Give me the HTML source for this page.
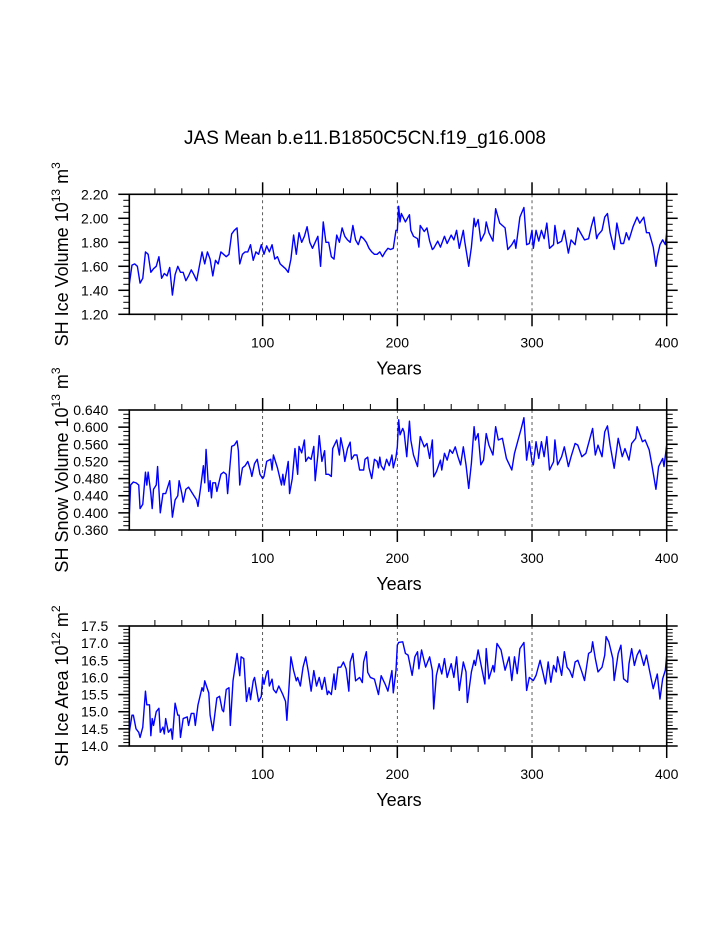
<!DOCTYPE html>
<html><head><meta charset="utf-8">
<style>
html,body{margin:0;padding:0;background:#fff;}
svg{display:block;font-family:"Liberation Sans",Arial,sans-serif;}
</style></head>
<body>
<svg id="chart" width="723" height="935" viewBox="0 0 723 935" xmlns="http://www.w3.org/2000/svg">
<text x="365" y="144" font-size="19" text-anchor="middle">JAS Mean b.e11.B1850C5CN.f19_g16.008</text>
</svg>
<script>
// ---- Panel 1: SH Ice Volume (10^13 m^3)
const iceVolYears = [1,3,5,7,9,11,13,15,17,19,21,23,25,27,29,31,33,35,37,39,41,43,45,47,49,51,53,55,57,59,61,63,65,67,69,71,73,75,77,79,81,83,85,87,89,91,93,95,97,99,
101,103,105,107,109,111,113,115,117,119,121,123,125,127,129,131,133,135,137,139,141,143,145,147,149,151,153,155,157,159,161,163,165,167,169,171,173,175,177,179,181,183,185,187,189,191,193,195,197,199,
200,201,202,203,206,209,210,212,215,216,217,220,222,224,226,227,230,232,235,237,240,242,244,246,249,250,253,255,257,258,260,262,265,266,268,271,273,276,280,282,285,287,288,291,294,296,298,300,301,303,305,307,309,311,313,316,317,319,322,324,327,329,332,334,337,339,342,344,346,348,349,352,354,356,358,361,363,366,368,370,372,375,378,380,383,385,387,390,392,393,395,397,399,400];
const iceVolValues = [1.45,1.61,1.62,1.60,1.46,1.50,1.72,1.70,1.55,1.58,1.60,1.68,1.50,1.54,1.52,1.59,1.36,1.53,1.60,1.55,1.55,1.48,1.52,1.57,1.53,1.48,1.60,1.72,1.62,1.72,1.66,1.52,1.65,1.62,1.72,1.70,1.68,1.70,1.87,1.90,1.92,1.62,1.70,1.72,1.72,1.78,1.65,1.72,1.70,1.78,
1.70,1.77,1.72,1.78,1.66,1.68,1.62,1.60,1.58,1.55,1.66,1.86,1.70,1.88,1.80,1.85,1.93,1.80,1.75,1.80,1.85,1.60,1.97,1.80,1.80,1.68,1.66,1.86,1.80,1.92,1.85,1.82,1.80,1.94,1.82,1.78,1.85,1.83,1.80,1.75,1.72,1.70,1.70,1.72,1.68,1.72,1.75,1.74,1.75,1.90,
1.90,2.10,1.97,2.04,1.97,2.03,1.90,1.85,1.83,1.76,1.94,1.89,1.92,1.81,1.74,1.75,1.81,1.76,1.85,1.79,1.86,1.82,1.90,1.75,1.90,1.81,1.60,1.76,2.00,1.93,1.99,1.81,1.88,1.97,1.88,1.81,2.08,1.96,1.92,1.74,1.78,1.82,1.75,2.01,2.09,1.78,1.79,1.90,1.75,1.90,1.81,1.90,1.83,1.96,1.75,1.78,1.94,1.79,1.81,1.90,1.71,1.82,1.78,1.92,1.86,1.82,1.83,1.93,2.01,1.83,1.86,1.90,2.01,2.04,1.88,1.74,1.96,1.79,1.79,1.88,1.82,1.93,2.01,1.96,2.01,1.88,1.88,1.76,1.60,1.68,1.78,1.82,1.78,1.88];

// ---- Panel 2: SH Snow Volume (10^13 m^3)
const snowYears = [1,2,4,6,8,9,11,13,14,15,17,18,19,21,22,24,26,28,31,33,35,37,38,40,41,43,45,48,51,52,54,56,57,58,60,61,62,63,65,66,69,71,73,74,76,77,79,81,82,83,85,87,89,91,92,94,96,98,100,
101,103,106,107,108,111,114,115,116,119,120,122,124,126,127,129,131,132,134,136,138,139,141,142,144,146,147,149,151,152,155,157,158,160,161,163,165,166,168,170,172,175,176,178,179,181,183,185,186,187,188,190,192,194,196,197,199,
200,201,202,204,205,207,209,210,212,215,217,220,222,224,226,227,229,232,233,235,237,239,241,243,245,247,249,251,253,255,257,258,260,262,264,266,268,271,273,275,278,281,285,287,290,292,294,296,298,300,301,303,305,307,309,311,313,316,317,319,322,324,327,329,332,334,337,340,343,345,347,349,352,354,356,358,361,364,367,369,372,374,377,378,382,384,387,389,392,394,397,398,400];
const snowValues = [0.395,0.465,0.472,0.470,0.465,0.410,0.420,0.495,0.465,0.495,0.445,0.410,0.455,0.465,0.508,0.400,0.445,0.445,0.475,0.390,0.430,0.440,0.475,0.445,0.425,0.455,0.460,0.445,0.430,0.415,0.460,0.510,0.470,0.548,0.450,0.475,0.435,0.470,0.470,0.450,0.490,0.495,0.490,0.445,0.520,0.555,0.558,0.568,0.545,0.465,0.505,0.510,0.520,0.500,0.485,0.515,0.525,0.490,0.480,
0.485,0.520,0.525,0.500,0.535,0.505,0.465,0.490,0.465,0.520,0.445,0.480,0.550,0.490,0.555,0.540,0.570,0.520,0.530,0.525,0.555,0.475,0.535,0.580,0.520,0.545,0.490,0.490,0.485,0.550,0.570,0.535,0.575,0.545,0.520,0.550,0.565,0.525,0.535,0.535,0.500,0.500,0.525,0.530,0.505,0.480,0.525,0.520,0.505,0.530,0.510,0.500,0.525,0.510,0.535,0.505,0.530,
0.554,0.617,0.582,0.597,0.589,0.531,0.614,0.570,0.535,0.508,0.578,0.554,0.562,0.527,0.570,0.484,0.496,0.523,0.500,0.539,0.523,0.547,0.539,0.554,0.531,0.512,0.554,0.512,0.457,0.516,0.601,0.570,0.585,0.512,0.523,0.585,0.558,0.535,0.601,0.570,0.574,0.527,0.500,0.539,0.574,0.597,0.622,0.523,0.566,0.519,0.512,0.566,0.527,0.566,0.531,0.578,0.500,0.519,0.570,0.512,0.531,0.554,0.508,0.531,0.562,0.558,0.531,0.539,0.574,0.597,0.535,0.558,0.531,0.589,0.603,0.558,0.504,0.574,0.531,0.550,0.523,0.562,0.574,0.601,0.566,0.570,0.547,0.512,0.455,0.508,0.527,0.508,0.558];

// ---- Panel 3: SH Ice Area (10^12 m^2)
const areaYears = [1,3,4,6,8,9,11,13,14,16,17,18,19,21,23,24,26,27,28,30,32,33,35,37,38,39,41,44,45,47,49,50,52,55,56,57,60,61,63,66,68,70,71,73,75,76,78,81,83,84,86,88,90,91,93,94,97,99,100,
101,103,104,105,107,108,110,112,115,117,118,121,123,125,126,128,130,132,134,136,138,140,142,144,146,148,149,151,153,154,156,158,160,162,164,165,167,169,172,174,175,177,178,180,183,186,188,191,193,196,197,199,
200,201,204,206,208,211,213,215,216,218,221,224,226,227,229,231,233,235,237,240,242,244,246,249,251,252,255,257,258,260,262,265,266,268,271,272,274,277,280,283,285,287,289,291,294,296,298,301,303,306,308,310,312,314,316,318,319,322,324,326,328,330,332,334,337,339,342,344,345,347,349,352,354,355,357,360,361,364,366,368,371,372,374,376,378,380,383,385,387,390,393,395,397,399,400];
const areaValues = [14.4,14.9,14.9,14.5,14.4,14.25,14.55,15.6,15.2,15.2,14.3,14.8,14.6,15.0,15.1,14.4,14.55,14.35,14.8,14.4,14.5,14.2,15.25,14.9,14.9,14.25,14.8,14.85,14.6,14.95,14.95,14.6,15.2,15.7,15.6,15.9,15.55,14.9,14.45,15.4,15.45,15.05,15.0,15.65,15.7,14.6,15.9,16.7,16.05,16.6,16.55,15.3,15.7,15.35,15.9,16.0,15.3,15.45,16.0,
15.8,16.15,16.2,15.75,15.95,15.65,15.55,15.75,15.5,15.3,14.75,16.6,16.2,15.9,16.0,15.75,16.3,16.6,16.15,15.6,16.2,15.75,16.0,15.65,16.0,15.5,15.6,15.5,16.1,15.65,16.3,16.3,16.45,16.25,15.6,16.45,16.7,15.9,16.0,15.85,16.45,16.75,16.15,16.0,15.95,15.5,16.05,15.8,15.6,16.2,15.55,16.2,
16.94,17.02,17.04,16.7,16.65,16.06,16.6,16.75,16.25,16.8,16.3,16.6,16.2,15.08,16.06,16.4,16.1,16.55,16.0,16.4,16.0,16.6,15.62,16.45,16.16,15.27,16.16,16.5,16.35,16.8,16.4,15.81,16.84,15.96,16.35,16.16,16.99,16.8,16.21,16.6,15.91,16.6,16.11,16.84,17.02,15.62,16.0,15.91,16.06,16.5,16.16,15.81,16.45,15.86,16.35,16.16,16.6,16.06,16.75,16.3,16.2,16.0,16.45,16.5,16.16,15.91,16.7,16.75,17.04,16.55,16.16,16.3,16.65,17.19,17.04,16.55,15.91,16.7,16.94,15.96,15.86,16.4,16.84,16.35,16.65,16.8,16.35,16.65,16.25,15.67,16.1,15.37,15.96,16.21,16.65];

// ---- Axis tick definitions
const xMajorTicks = [100,200,300,400];
const xMinorTicks = [20,40,60,80,120,140,160,180,220,240,260,280,320,340,360,380];
const iceVolTickLabels = ["1.20","1.40","1.60","1.80","2.00","2.20"];
const snowTickLabels = ["0.360","0.400","0.440","0.480","0.520","0.560","0.600","0.640"];
const areaTickLabels = ["14.0","14.5","15.0","15.5","16.0","16.5","17.0","17.5"];

const NS = "http://www.w3.org/2000/svg";
const svg = document.getElementById("chart");
const L = 129.3, R = 666.7, H = 120, XMIN = 1, XMAX = 400;
function xScale(v){ return L + (v - XMIN) / (XMAX - XMIN) * (R - L); }
function mk(tag, attrs, parent){
  const e = document.createElementNS(NS, tag);
  for (const k in attrs) e.setAttribute(k, attrs[k]);
  (parent || svg).appendChild(e);
  return e;
}

const panels = [
  {key:"ice-volume", top:194.3, ymin:1.2, ymax:2.2, minor:0.05, labels:iceVolTickLabels, years:iceVolYears, values:iceVolValues,
   title:["SH Ice Volume 10","13"," m","3"]},
  {key:"snow-volume", top:410, ymin:0.36, ymax:0.64, minor:0.01, labels:snowTickLabels, years:snowYears, values:snowValues,
   title:["SH Snow Volume 10","13"," m","3"]},
  {key:"ice-area", top:626, ymin:14.0, ymax:17.5, minor:0.1, labels:areaTickLabels, years:areaYears, values:areaValues,
   title:["SH Ice Area 10","12"," m","2"]}
];

panels.forEach(p => {
  const T = p.top, B = p.top + H;
  const yScale = v => B - (v - p.ymin) / (p.ymax - p.ymin) * H;
  const g = mk("g", {});
  
  

  [100,200,300].forEach(v => {
    const ln = mk("line", {x1:xScale(v), x2:xScale(v), y1:T, y2:B, stroke:"#333", "stroke-width":0.8, "stroke-dasharray":"3,3"}, g);
    
    
  });

  let d = "";
  p.years.forEach((yr, i) => { d += (i ? "L" : "M") + xScale(yr).toFixed(2) + "," + yScale(p.values[i]).toFixed(2); });
  const path = mk("path", {d:d, fill:"none", stroke:"#0000ff", "stroke-width":1.4, "stroke-linejoin":"round"}, g);
  
  

  xMajorTicks.forEach(v => {
    const x = xScale(v);
    mk("line", {x1:x, x2:x, y1:B, y2:B+12, stroke:"#000", "stroke-width":1.5}, g);
    mk("line", {x1:x, x2:x, y1:T, y2:T-12, stroke:"#000", "stroke-width":1.5}, g);
    const t = mk("text", {x:x, y:B+33, "font-size":14, "text-anchor":"middle"}, g);
    t.textContent = v;
    
    
  });
  xMinorTicks.forEach(v => {
    const x = xScale(v);
    mk("line", {x1:x, x2:x, y1:B, y2:B+6, stroke:"#000", "stroke-width":1}, g);
    mk("line", {x1:x, x2:x, y1:T, y2:T-6, stroke:"#000", "stroke-width":1}, g);
  });

  const step = (p.ymax - p.ymin) / (p.labels.length - 1);
  const nMinor = Math.round((p.ymax - p.ymin) / p.minor);
  for (let i = 0; i <= nMinor; i++) {
    const y = yScale(p.ymin + i * p.minor);
    mk("line", {x1:L, x2:L-6, y1:y, y2:y, stroke:"#000", "stroke-width":1}, g);
    mk("line", {x1:R, x2:R+6, y1:y, y2:y, stroke:"#000", "stroke-width":1}, g);
  }
  p.labels.forEach((lab, i) => {
    const y = yScale(p.ymin + i * step);
    mk("line", {x1:L, x2:L-11, y1:y, y2:y, stroke:"#000", "stroke-width":1.5}, g);
    mk("line", {x1:R, x2:R+11, y1:y, y2:y, stroke:"#000", "stroke-width":1.5}, g);
    const t = mk("text", {x:L-21, y:y+5, "font-size":14, "text-anchor":"end"}, g);
    t.textContent = lab;
    
    
  });

  const fr = mk("rect", {x:L, y:T, width:R-L, height:H, fill:"none", stroke:"#000", "stroke-width":1.6}, g);
  
  

  const xt = mk("text", {x:399, y:B+60, "font-size":18, "text-anchor":"middle"}, g);
  xt.textContent = "Years";
  
  

  const cy = T + H/2;
  const yt = mk("text", {x:0, y:0, "font-size":18, "text-anchor":"middle", transform:"translate(68," + cy + ") rotate(-90)"}, g);
  
  
  const s1 = mk("tspan", {}, yt); s1.textContent = p.title[0];
  const s2 = mk("tspan", {dy:-8, "font-size":12}, yt); s2.textContent = p.title[1];
  const s3 = mk("tspan", {dy:8}, yt); s3.textContent = p.title[2];
  const s4 = mk("tspan", {dy:-8, "font-size":12}, yt); s4.textContent = p.title[3];
});
</script>
</body></html>
